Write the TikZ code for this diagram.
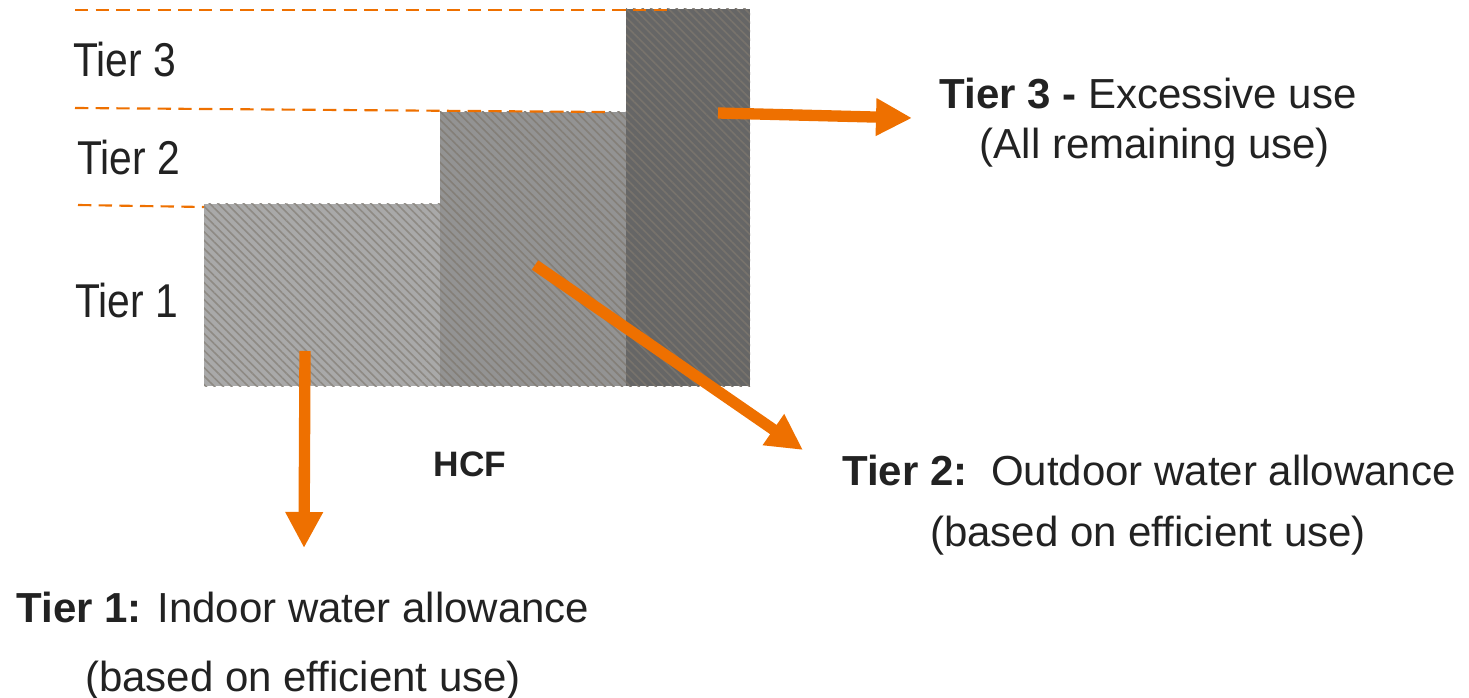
\documentclass[tikz,border=0pt]{standalone}
\usepackage{fontspec}
\setmainfont{Liberation Sans}
\usetikzlibrary{arrows.meta,patterns.meta}
\definecolor{tierorange}{HTML}{EE7000}
\definecolor{txt}{HTML}{222222}
\definecolor{barA}{HTML}{A9A9A9}
\definecolor{barAs}{HTML}{8E8A84}
\definecolor{barB}{HTML}{939393}
\definecolor{barBs}{HTML}{847F78}
\definecolor{barC}{HTML}{666666}
\definecolor{barCs}{HTML}{78736C}
\newcommand{\narrowtext}[1]{\scalebox{0.86}[1]{#1}}
\tikzset{
  lbl/.style={text=txt, inner sep=0pt, anchor=base, font=\fontsize{31.5pt}{36pt}\selectfont},
  lbll/.style={text=txt, inner sep=0pt, anchor=base west, font=\fontsize{35.6pt}{40pt}\selectfont},
  hcf/.style={text=txt, inner sep=0pt, anchor=base, font=\fontsize{26.5pt}{30pt}\selectfont\bfseries},
  tierline/.style={draw=tierorange, line width=1.6pt, dash pattern=on 10pt off 5.5pt},
  bigarrow/.style={draw=tierorange, line width=8.5pt, -{Triangle[width=26.5pt,length=27pt]}},
  stripes/.style={pattern={Lines[angle=-45,distance=4.5pt,line width=1.2pt]}}
}
\begin{document}
\begin{tikzpicture}[x=0.75pt,y=-0.75pt]
\useasboundingbox (0,0) rectangle (1469,698);
% bars
\fill[barA] (204,204) rectangle (440,386);
\fill[stripes, pattern color=barAs] (204,204) rectangle (440,386);
\fill[barB] (440,112) rectangle (626,386);
\fill[stripes, pattern color=barBs] (440,112) rectangle (626,386);
\fill[barC] (626,9) rectangle (750,386);
\fill[stripes, pattern color=barCs] (626,9) rectangle (750,386);
% dashed tier boundaries
\coordinate (d3a) at (75,10);
\coordinate (d3b) at (672,10);
\coordinate (d2a) at (75,108);
\coordinate (d2b) at (605,112);
\coordinate (d1a) at (78,205);
\coordinate (d1b) at (204,207);
\draw[tierline] (d3a) -- (d3b);
\draw[tierline] (d2a) -- (d2b);
\draw[tierline] (d1a) -- (d1b);
% left labels
\node[lbll] (l3) at (73,77) {\narrowtext{Tier 3}};
\node[lbll] (l2) at (77,175) {\narrowtext{Tier 2}};
\node[lbll] (l1) at (75,317) {\narrowtext{Tier 1}};
% HCF
\node[hcf] (hcf) at (470,476) {HCF};
% right / bottom descriptions
\node[lbl] (r3a) at (1148,109) {\textbf{Tier 3 -} Excessive use};
\node[lbl] (r3b) at (1155,159) {(All remaining use)};
\node[lbl] (r2a) at (1149,485) {\textbf{Tier 2:}\ \ Outdoor water allowance};
\node[lbl] (r2b) at (1148,546) {(based on efficient use)};
\node[lbl] (r1a) at (303,622) {\textbf{Tier 1:} Indoor water allowance};
\node[lbl] (r1b) at (303,691) {(based on efficient use)};
% arrows
\coordinate (a3s) at (718,113);
\coordinate (a3e) at (912,118);
\coordinate (a2s) at (535,265);
\coordinate (a2e) at (803,450);
\coordinate (a1s) at (305,351);
\coordinate (a1e) at (304,548);
\draw[bigarrow] (a3s) -- (a3e);
\draw[bigarrow] (a2s) -- (a2e);
\draw[bigarrow] (a1s) -- (a1e);
\end{tikzpicture}
\end{document}
